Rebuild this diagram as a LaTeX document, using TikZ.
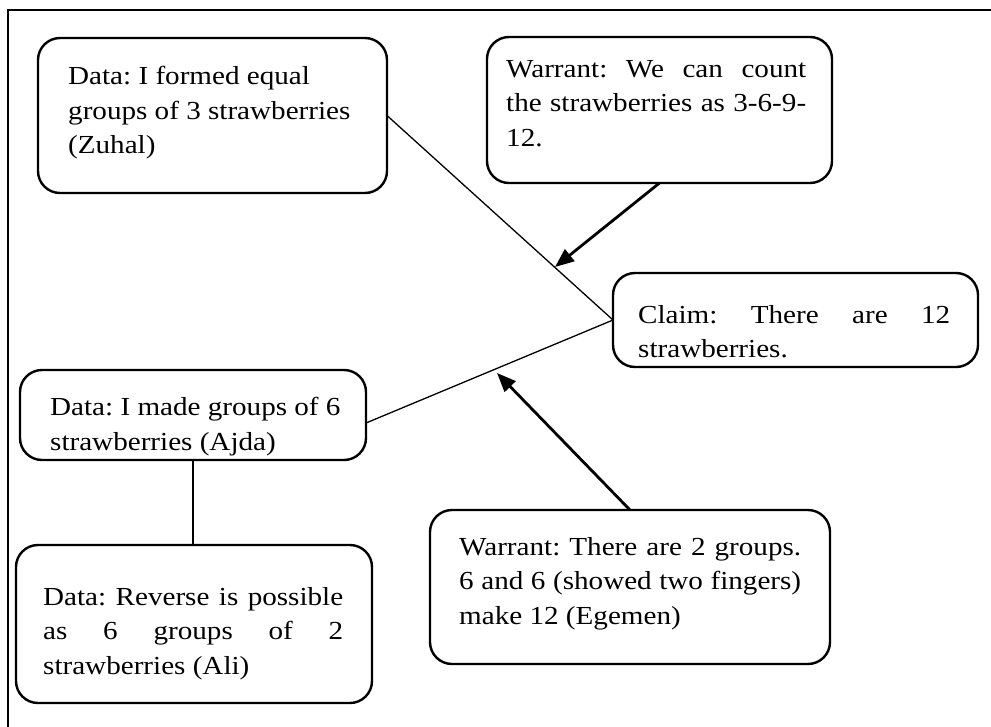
\documentclass[tikz,border=0pt]{standalone}
\usepackage{fontspec}
\setmainfont[FakeStretch=1.12]{Liberation Serif}
\usetikzlibrary{positioning, arrows.meta}

\begin{document}
\begin{tikzpicture}[x=1pt,y=-1pt]
	\tikzstyle{box}=[draw=black,line width=2.4pt,rounded corners=22pt,outer sep=0pt,inner sep=0pt]
	\tikzstyle{txt}=[inner sep=0pt,font=\fontsize{26}{34.5}\selectfont\frenchspacing]
	\tikzstyle{link}=[line width=1.3pt]
	\tikzstyle{support}=[-{Triangle[length=19pt,width=15pt]},line width=2.8pt]
	\useasboundingbox (0,0) rectangle (991,726);
	% frame, cut off at the right and at the bottom
	\draw[line width=2pt] (8,740) -- (8,9.5) -- (1000,9.5);
	% boxes
	\node[box,minimum width=349pt,minimum height=155pt](zuhal) at (212.5,115.5){};
	\node[box,minimum width=345pt,minimum height=146pt](wtop) at (659.5,110){};
	\node[box,minimum width=365pt,minimum height=94pt](claim) at (795.5,320){};
	\node[box,minimum width=346pt,minimum height=90pt](ajda) at (193,415){};
	\node[box,minimum width=356pt,minimum height=158pt](ali) at (194,624){};
	\node[box,minimum width=400pt,minimum height=154pt](egemen) at (630,587){};
	% texts
	\node[txt,below right=28pt and 30pt of zuhal.north west,align=left](zuhaltext)
		{Data: I formed equal\\groups of 3 strawberries\\(Zuhal)};
	\node[txt,below right=23pt and 19pt of wtop.north west,text width=300pt,align=justify](wtoptext)
		{Warrant: We can count\linebreak the strawberries as 3-6-9-\linebreak 12.};
	\node[txt,below right=32pt and 25pt of claim.north west,text width=312pt,align=justify](claimtext)
		{Claim: There are 12\linebreak strawberries.};
	\node[txt,below right=27pt and 30pt of ajda.north west,align=left](ajdatext)
		{Data: I made groups of 6\\strawberries (Ajda)};
	\node[txt,below right=42pt and 27pt of ali.north west,text width=300pt,align=justify](alitext)
		{Data: Reverse is possible\linebreak as 6 groups of 2\linebreak strawberries (Ali)};
	\node[txt,below right=27pt and 29pt of egemen.north west,text width=342pt,align=justify](egementext)
		{Warrant: There are 2 groups.\linebreak 6 and 6 (showed two fingers)\linebreak make 12 (Egemen)};
	% connectors
	\coordinate (wA) at (555,267);
	\coordinate (wB) at (497,373);
	\path[link]
		(zuhal.east) edge (claim.west)
		([yshift=-8pt]ajda.east) edge (claim.west)
		(ajda.south) edge (ajda.south |- ali.north);
	\draw[support] (wtop.south) -- (wA);
	\draw[support] (egemen.north) -- (wB);
\end{tikzpicture}
\end{document}
